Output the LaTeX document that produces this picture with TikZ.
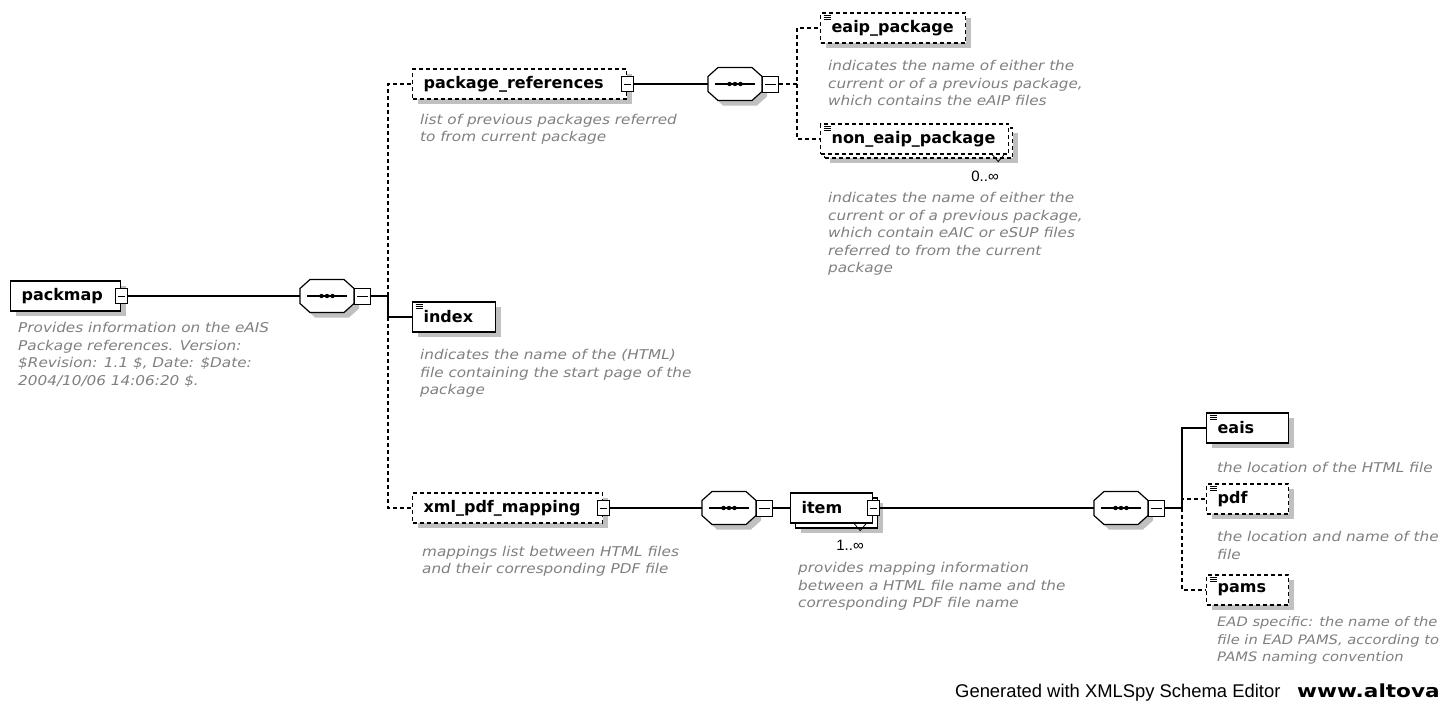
\documentclass[tikz,border=0pt]{standalone}
\usepackage{fontspec}
\setmainfont{DejaVu Sans}
\newfontfamily\descfont{DejaVu Sans}[FakeStretch=1.13]
\newfontfamily\genfont{Liberation Sans}
\newfontfamily\webfont{DejaVu Sans}[FakeStretch=1.2]
\usetikzlibrary{shadows}

\definecolor{shadowgray}{RGB}{192,192,192}
\definecolor{descgray}{RGB}{128,128,128}

\tikzset{
  conn/.style={line width=1.2pt},
  optional/.style={dash pattern=on 4pt off 3pt},
  elem/.style={draw, fill=white, line width=1.2pt, minimum height=30pt,
    inner xsep=11pt, inner ysep=0pt, align=left, anchor=west,
    font=\fontsize{16}{18}\selectfont\bfseries},
  shadowed/.style={drop shadow={shadow xshift=5pt, shadow yshift=-5pt,
    fill=shadowgray, opacity=1}},
  stacked/.style={drop shadow={shadow xshift=#1+5pt, shadow yshift=-#1-5pt,
    fill=shadowgray, opacity=1},
    copy shadow={shadow xshift=#1, shadow yshift=-#1, draw=black,
    fill=white, opacity=1}},
  stacked/.default=5pt,
  simple/.style={path picture={
    \foreach \k in {2.5,4.5,6.5}
      \draw[solid, line width=0.8pt]
        ([shift={(3pt,-\k pt)}]path picture bounding box.north west) -- ++(7pt,0pt);
  }},
  minusbox/.style={draw, solid, fill=white, line width=1pt, minimum width=12pt,
    minimum height=15pt, inner sep=0pt, path picture={
    \draw[line width=1pt] ([xshift=2.5pt]path picture bounding box.west)
      -- ([xshift=-2.5pt]path picture bounding box.east);}},
  octpath/.style={insert path={(-17,-16.5) -- (17,-16.5) -- (27,-7.5)
    -- (27,7.5) -- (17,16.5) -- (-17,16.5) -- (-27,7.5) -- (-27,-7.5) -- cycle}},
  pics/seqbox/.style={code={
    \fill[shadowgray, shift={(5,5)}, octpath];
    \draw[fill=white, line width=1.2pt, octpath];
    \node[inner sep=0pt, minimum width=54pt, minimum height=33pt] (-box) at (0,0) {};
    \draw[line width=1.2pt] (-20,0) -- (20,0);
    \foreach \dx in {-5.5,0,5.5}
      \fill (\dx,0) circle (2.2pt);
    \node[minusbox, minimum width=16pt, minimum height=16pt, anchor=west] (-m) at (27,0) {};
  }},
  desc/.style={anchor=north west, inner sep=0pt, align=left, text=descgray,
    font=\descfont\itshape\fontsize{13.5}{17.5}\selectfont},
  mult/.style={font=\genfont\fontsize{15}{17}\selectfont, inner sep=0pt},
  gen/.style={font=\genfont\fontsize{18.4}{20}\selectfont, inner sep=0pt,
    anchor=base west}
}

\begin{document}
\begin{tikzpicture}[x=1pt, y=-1pt]
  \useasboundingbox (0,0) rectangle (1444,724);
  \clip (0,0) rectangle (1444,724);
  \fill[white] (0,0) rectangle (1444,724);

  % element boxes
  \node[elem, shadowed, text width=88pt] (packmap) at (10,296) {packmap};
  \node[elem, optional, shadowed, text width=192pt] (pkgref) at (412,84) {package\_references};
  \node[elem, simple, shadowed, text width=61pt] (index) at (412,317) {index};
  \node[elem, optional, shadowed, text width=168pt] (xmlmap) at (412,508) {xml\_pdf\_mapping};
  \node[elem, optional, simple, shadowed, text width=123pt] (eaip) at (820,28) {eaip\_package};
  \node[elem, optional, simple, stacked=4pt, text width=166pt] (noneaip) at (820,139) {non\_eaip\_package};
  \node[elem, stacked, text width=60pt] (item) at (790,508) {item};
  \node[elem, simple, shadowed, text width=60pt] (eais) at (1206,428) {eais};
  \node[elem, optional, simple, shadowed, text width=60pt] (pdf) at (1206,499) {pdf};
  \node[elem, optional, simple, shadowed, text width=60pt] (pams) at (1206,590) {pams};

  % sequences
  \pic (s1) at (327,296) {seqbox};
  \pic (s2) at (735,84) {seqbox};
  \pic (s3) at (729,508) {seqbox};
  \pic (s4) at (1121,508) {seqbox};
  \foreach \e in {packmap,pkgref,xmlmap,item}
    \node[minusbox] (\e-m) at (\e.east) {};

  % occurrence marks
  \draw[line width=0.8pt] ([xshift=-19pt]item.south east) -- ++(6,7) -- ++(6,-7);
  \draw[line width=0.8pt] ([xshift=-17pt]noneaip.south east) -- ++(6,7) -- ++(6,-7);
  \node[mult] (noneaip-n) at (985,176) {0..∞};
  \node[mult] (item-n) at (850,545) {1..∞};

  % connectors
  \draw[conn] (packmap-m) -- (s1-box);
  \draw[conn] (pkgref-m) -- (s2-box);
  \draw[conn] (xmlmap-m) -- (s3-box);
  \draw[conn] (s3-m) -- (item);
  \draw[conn] (item-m) -- (s4-box);

  \coordinate (j1) at (388,296);
  \draw[conn] (s1-m) -- (j1);
  \draw[conn, optional] (j1) |- (pkgref.west);
  \draw[conn, optional] (j1) |- (xmlmap.west);
  \draw[conn] (j1) |- (index.west);

  \coordinate (j2) at (797,84);
  \draw[conn, optional] (s2-m) -- (j2) |- (eaip.west);
  \draw[conn, optional] (j2) |- (noneaip.west);

  \coordinate (j3) at (1182,508);
  \draw[conn] (s4-m) -- (j3) |- (eais.west);
  \draw[conn, optional] (j3) |- (pdf.west);
  \draw[conn, optional] (j3) |- (pams.west);

  % annotations
  \node[desc] (packmap-d) at (18,322.5) {Provides information on the eAIS\\Package references. Version:\\\$Revision: 1.1 \$, Date: \$Date:\\2004/10/06 14:06:20 \$.};
  \node[desc] (pkgref-d) at (420,114) {list of previous packages referred\\to from current package};
  \node[desc] (eaip-d) at (828,60.5) {indicates the name of either the\\current or of a previous package,\\which contains the eAIP files};
  \node[desc] (noneaip-d) at (828,192.5) {indicates the name of either the\\current or of a previous package,\\which contain eAIC or eSUP files\\referred to from the current\\package};
  \node[desc] (index-d) at (420,349.5) {indicates the name of the (HTML)\\file containing the start page of the\\package};
  \node[desc] (xmlmap-d) at (422,546) {mappings list between HTML files\\and their corresponding PDF file};
  \node[desc] (item-d) at (798,562.5) {provides mapping information\\between a HTML file name and the\\corresponding PDF file name};
  \node[desc] (eais-d) at (1217,462) {the location of the HTML file};
  \node[desc] (pdf-d) at (1217,531.5) {the location and name of the\\file};
  \node[desc, font=\descfont\itshape\fontsize{13}{17.5}\selectfont] (pams-d) at (1217,616.5) {EAD specific: the name of the\\file in EAD PAMS, according to\\PAMS naming convention};

  \node[gen] (gen) at (955,697) {Generated with XMLSpy Schema Editor};
  \node[gen, font=\webfont\fontsize{18}{20}\selectfont\bfseries] (altova) at (1297,697) {www.altova};
\end{tikzpicture}
\end{document}
